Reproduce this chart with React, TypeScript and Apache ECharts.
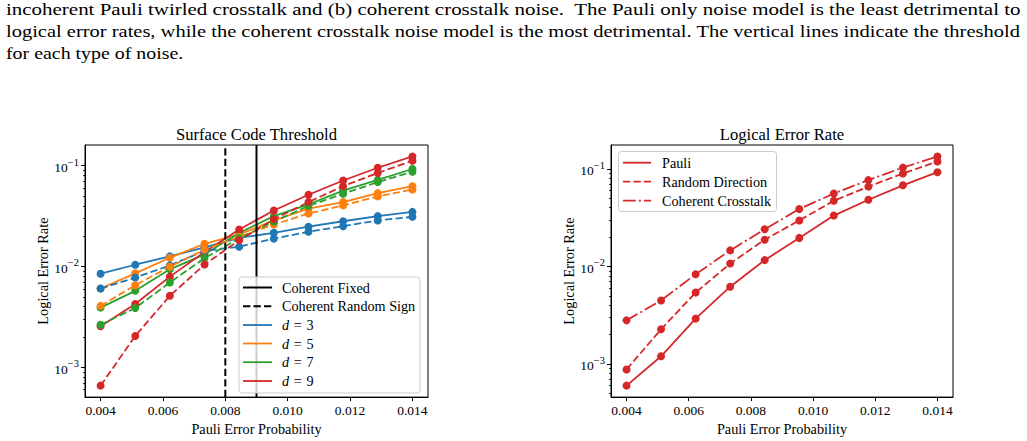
import React, { useEffect, useRef } from 'react';
import * as echarts from 'echarts';

// ---------- data ----------
const pauliErrorProbability = [0.004, 0.005111, 0.006222, 0.007333, 0.008444, 0.009556, 0.010667, 0.011778, 0.012889, 0.014];
const xTicks = [0.004, 0.006, 0.008, 0.01, 0.012, 0.014];
const yTicks = [0.001, 0.01, 0.1];

// (a) Surface code threshold: "Coherent Fixed" (solid) and "Coherent Random Sign" (dashed)
const distances = ['3', '5', '7', '9'];
const fixedD3 = [0.00847, 0.0104, 0.0126, 0.0155, 0.0192, 0.0216, 0.0248, 0.0281, 0.0316, 0.0348];
const fixedD5 = [0.00604, 0.00855, 0.0122, 0.0168, 0.0208, 0.0286, 0.0375, 0.0436, 0.0535, 0.0626];
const fixedD7 = [0.0039, 0.00573, 0.00937, 0.0132, 0.0215, 0.0316, 0.0414, 0.0567, 0.0723, 0.0928];
const fixedD9 = [0.00255, 0.00424, 0.00793, 0.0139, 0.0233, 0.0359, 0.0515, 0.0713, 0.0955, 0.1236];
const randomD3 = [0.00604, 0.00775, 0.01025, 0.0143, 0.0157, 0.0189, 0.0221, 0.0251, 0.0286, 0.0311];
const randomD5 = [0.00406, 0.00652, 0.00993, 0.0147, 0.0197, 0.0261, 0.0335, 0.0404, 0.0496, 0.058];
const randomD7 = [0.00264, 0.00387, 0.00692, 0.0121, 0.019, 0.0279, 0.0399, 0.0527, 0.0687, 0.0873];
const randomD9 = [0.000656, 0.00204, 0.00512, 0.01044, 0.0182, 0.0294, 0.0436, 0.0627, 0.0848, 0.112];
const thresholdFixed = 0.009;
const thresholdRandomSign = 0.008;

// (b) Logical error rate by noise model
const pauliOnly = [0.0006, 0.0012, 0.00292, 0.0062, 0.0116, 0.0196, 0.0332, 0.0482, 0.0678, 0.0924];
const randomDirection = [0.000879, 0.00227, 0.0054, 0.0107, 0.0188, 0.0296, 0.0471, 0.0658, 0.0897, 0.119];
const coherentCrosstalk = [0.0028, 0.00448, 0.0083, 0.0146, 0.024, 0.0388, 0.0559, 0.0767, 0.103, 0.134];

const captionLines = [
  'incoherent Pauli twirled crosstalk and (b) coherent crosstalk noise.  The Pauli only noise model is the least detrimental to',
  'logical error rates, while the coherent crosstalk noise model is the most detrimental. The vertical lines indicate the threshold',
  'for each type of noise.',
];

// ---------- style ----------
const FONT = "'Liberation Serif', 'Times New Roman', serif";
const BLUE = '#1f77b4';
const ORANGE = '#ff7f0e';
const GREEN = '#2ca02c';
const RED = '#d62728';
const DASH = [7.3, 3.2];
const DASHDOT = [12.7, 3.2, 2, 3.2];
const LW = 1.8;
const TICK_FS = 13.5;
const NAME_FS = 14.3;
const LEGEND_FS = 14.2;

const G1 = { left: 85, top: 145, width: 343, height: 255 };
const G2 = { left: 611, top: 145, width: 342, height: 255 };

function logExtent(arrays: number[][]) {
  const all = arrays.flat();
  const lo = Math.log10(Math.min(...all));
  const hi = Math.log10(Math.max(...all));
  const m = (hi - lo) * 0.05;
  return [Math.pow(10, lo - m), Math.pow(10, hi + m)];
}

function minorTicks(min: number, max: number) {
  const out: number[] = [];
  for (let e = -5; e <= 1; e++) {
    for (let k = 2; k <= 9; k++) {
      const v = k * Math.pow(10, e);
      if (v > min && v < max) out.push(v);
    }
  }
  return out;
}

function measure(text: string, font: string) {
  const ctx = document.createElement('canvas').getContext('2d')!;
  ctx.font = font;
  return ctx.measureText(text).width;
}

export default function App() {
  const ref = useRef<HTMLDivElement>(null);

  useEffect(() => {
    if (!ref.current) return;
    const chart = echarts.init(ref.current, null, { renderer: 'svg' });

    const leftExt = logExtent([fixedD3, fixedD5, fixedD7, fixedD9, randomD3, randomD5, randomD7, randomD9]);
    const rightExt = logExtent([pauliOnly, randomDirection, coherentCrosstalk]);

    const tickText = { fontFamily: FONT, fontSize: TICK_FS, color: '#000' };
    const nameText = { fontFamily: FONT, fontSize: NAME_FS, color: '#000' };

    const xAxis = (gridIndex: number) => ({
      type: 'value',
      gridIndex,
      min: 0.0035,
      max: 0.0145,
      axisLine: { show: true, lineStyle: { color: '#000', width: 1 } },
      splitLine: { show: false },
      axisTick: { show: true, customValues: xTicks, length: 4, lineStyle: { color: '#000', width: 1 } },
      axisLabel: { customValues: xTicks, formatter: (v: number) => v.toFixed(3), margin: 6, ...tickText },
      name: 'Pauli Error Probability',
      nameLocation: 'middle',
      nameGap: 20,
      nameTextStyle: { ...nameText },
    });

    const yMain = (gridIndex: number, ext: number[]) => ({
      type: 'log',
      logBase: 10,
      gridIndex,
      min: ext[0],
      max: ext[1],
      axisLine: { show: true, lineStyle: { color: '#000', width: 1 } },
      splitLine: { show: false },
      minorTick: { show: false },
      axisTick: { show: true, customValues: yTicks, length: 4, lineStyle: { color: '#000', width: 1 } },
      axisLabel: {
        customValues: yTicks,
        margin: 6,
        formatter: (v: number) => `{b|10}{s|−${-Math.round(Math.log10(v))}}`,
        rich: {
          b: { fontFamily: FONT, fontSize: TICK_FS, color: '#000', lineHeight: 18, verticalAlign: 'bottom' },
          s: { fontFamily: FONT, fontSize: 10.5, color: '#000', lineHeight: 10, verticalAlign: 'top' },
        },
      },
      name: 'Logical Error Rate',
      nameLocation: 'middle',
      nameGap: 35,
      nameTextStyle: { ...nameText },
    });

    const yMinor = (gridIndex: number, ext: number[]) => ({
      type: 'log',
      logBase: 10,
      gridIndex,
      position: 'left',
      offset: 0,
      min: ext[0],
      max: ext[1],
      axisLine: { show: false },
      splitLine: { show: false },
      axisLabel: { show: false },
      axisTick: { show: true, customValues: minorTicks(ext[0], ext[1]), length: 2, lineStyle: { color: '#000', width: 0.8 } },
    });

    const line = (name: string, values: number[], color: string, dash: any, xAxisIndex: number, yAxisIndex: number) => ({
      type: 'line',
      name,
      xAxisIndex,
      yAxisIndex,
      data: values.map((v, i) => [pauliErrorProbability[i], v]),
      symbol: 'circle',
      symbolSize: 8,
      showSymbol: true,
      itemStyle: { color },
      lineStyle: { color, width: LW, type: dash },
      emphasis: { disabled: true },
      silent: true,
    });

    const vline = (name: string, x: number, dash: any) => ({
      type: 'line',
      name,
      xAxisIndex: 0,
      yAxisIndex: 0,
      data: [[x, leftExt[0]], [x, leftExt[1]]],
      symbol: 'none',
      lineStyle: { color: '#000', width: 2, type: dash },
      z: 3,
      silent: true,
    });

    const colors = [BLUE, ORANGE, GREEN, RED];
    const fixed = [fixedD3, fixedD5, fixedD7, fixedD9];
    const random = [randomD3, randomD5, randomD7, randomD9];

    const series: any[] = [];
    fixed.forEach((vals, i) => series.push(line('d = ' + distances[i], vals, colors[i], 'solid', 0, 0)));
    random.forEach((vals, i) => series.push(line('d = ' + distances[i] + ' (random sign)', vals, colors[i], DASH, 0, 0)));
    series.push(vline('Coherent Fixed', thresholdFixed, 'solid'));
    series.push(vline('Coherent Random Sign', thresholdRandomSign, DASH));
    series.push(line('Pauli', pauliOnly, RED, 'solid', 1, 2));
    series.push(line('Random Direction', randomDirection, RED, DASH, 1, 2));
    series.push(line('Coherent Crosstalk', coherentCrosstalk, RED, DASHDOT, 1, 2));

    // ---------- graphics: caption, titles, legends ----------
    const capFont = 17;
    const capFontStr = `${capFont}px 'Liberation Serif'`;
    const capLeft = 6;
    const capRight = 1021;
    const capY = [9, 31, 53];
    const graphics: any[] = [];
    const widths = captionLines.map((t) => measure(t, capFontStr));
    const justifiedScales = widths.slice(0, widths.length - 1).map((w) => (w > 0 ? (capRight - capLeft) / w : 1));
    const meanScale = justifiedScales.reduce((a, b) => a + b, 0) / justifiedScales.length;
    captionLines.forEach((t, i) => {
      const justify = i < captionLines.length - 1;
      const sx = justify ? justifiedScales[i] : meanScale * 0.96;
      graphics.push({
        type: 'text',
        x: capLeft,
        y: capY[i],
        scaleX: sx,
        style: { text: t, fontFamily: FONT, fontSize: capFont, fill: '#000', textVerticalAlign: 'middle', verticalAlign: 'middle' },
      });
    });

    const title = (text: string, cx: number) => ({
      type: 'text',
      x: cx,
      y: 134,
      style: { text, fontFamily: FONT, fontSize: 16.6, fill: '#000', align: 'center', verticalAlign: 'middle', textAlign: 'center', textVerticalAlign: 'middle' },
    });
    graphics.push(title('Surface Code Threshold', G1.left + G1.width / 2));
    graphics.push(title('Logical Error Rate', G2.left + G2.width / 2));

    const legendBox = (x: number, y: number, w: number, h: number) => ({
      type: 'rect',
      z: 100,
      shape: { x, y, width: w, height: h, r: 3 },
      style: { fill: 'rgba(255,255,255,0.8)', stroke: '#cccccc', lineWidth: 1 },
    });
    const legendEntry = (x1: number, x2: number, tx: number, y: number, color: string, dash: any, label: string, rich?: boolean) => [
      {
        type: 'line',
        z: 101,
        shape: { x1, y1: y, x2, y2: y },
        style: { stroke: color, lineWidth: color === '#000' ? 2 : LW, lineDash: dash === 'solid' ? null : dash },
      },
      {
        type: 'text',
        z: 101,
        x: tx,
        y,
        style: rich
          ? {
              text: label,
              rich: {
                i: { fontFamily: FONT, fontSize: LEGEND_FS, fontStyle: 'italic', fill: '#000' },
                n: { fontFamily: FONT, fontSize: LEGEND_FS, fill: '#000' },
              },
              verticalAlign: 'middle',
              textVerticalAlign: 'middle',
            }
          : { text: label, fontFamily: FONT, fontSize: LEGEND_FS, fill: '#000', verticalAlign: 'middle', textVerticalAlign: 'middle' },
      },
    ];

    // left legend
    graphics.push(legendBox(239, 277, 181, 116));
    const leftRows = [287.5, 306.3, 325, 343.5, 362.2, 381];
    graphics.push(...legendEntry(243, 272, 282, leftRows[0], '#000', 'solid', 'Coherent Fixed'));
    graphics.push(...legendEntry(243, 272, 282, leftRows[1], '#000', DASH, 'Coherent Random Sign'));
    distances.forEach((d, i) => {
      graphics.push(...legendEntry(243, 272, 282, leftRows[i + 2], colors[i], 'solid', `{i|d}{n|\u2004=\u2004${d}}`, true));
    });

    // right legend
    graphics.push(legendBox(618.5, 151.5, 158, 60));
    graphics.push(...legendEntry(623, 651, 662, 162.7, RED, 'solid', 'Pauli'));
    graphics.push(...legendEntry(623, 651, 662, 181.7, RED, DASH, 'Random Direction'));
    graphics.push(...legendEntry(623, 651, 662, 200.7, RED, DASHDOT, 'Coherent Crosstalk'));

    chart.setOption({
      animation: false,
      backgroundColor: '#fff',
      textStyle: { fontFamily: FONT },
      grid: [
        { ...G1, show: true, borderColor: '#000', borderWidth: 1, backgroundColor: 'transparent', containLabel: false },
        { ...G2, show: true, borderColor: '#000', borderWidth: 1, backgroundColor: 'transparent', containLabel: false },
      ],
      xAxis: [xAxis(0), xAxis(1)],
      yAxis: [yMain(0, leftExt), yMinor(0, leftExt), yMain(1, rightExt), yMinor(1, rightExt)],
      series,
      graphic: { elements: graphics },
    });

    return () => chart.dispose();
  }, []);

  return (
    <div
      ref={ref}
      style={{ position: 'fixed', left: 0, top: 0, width: 1027, height: 441, background: '#fff' }}
    />
  );
}
